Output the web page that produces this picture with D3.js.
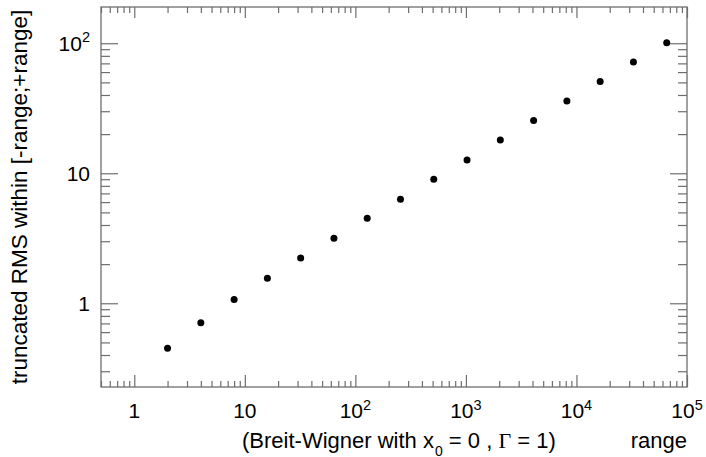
<!DOCTYPE html>
<html><head><meta charset="utf-8">
<script src="https://cdn.jsdelivr.net/npm/d3@7"></script>
<style>
body{margin:0;background:#fff;}
svg{display:block;font-family:"Liberation Sans",Arial,Helvetica,sans-serif;}
</style></head><body>
<svg id="c" width="706" height="457"></svg>
<script>
const rangeValues = [2,4,8,16,32,64,128,256,512,1024,2048,4096,8192,16384,32768,65536];
const rmsValues = [0.451,0.709,1.07,1.557,2.23,3.16,4.51,6.31,9.0,12.66,18.0,25.4,36.0,50.7,71.8,101];
const xMajorTicks = [1,10,100,1000,10000,100000];
const xTickBase = ["1","10","10","10","10","10"];
const xTickExp = ["","","2","3","4","5"];
const yMajorTicks = [1,10,100];
const yTickBase = ["1","10","10"];
const yTickExp = ["","","2"];
const xDomain = [0.5, 100000];
const yDomain = [0.227, 190];

const svg = d3.select("#c");
const L=101, R=687, T=7, B=387;
const x = d3.scaleLog().domain(xDomain).range([L,R]);
const y = d3.scaleLog().domain(yDomain).range([B,T]);
const axisColor = "#6e6e6e";

const isMajor = v => Math.abs(Math.log10(v) - Math.round(Math.log10(v))) < 1e-9;
const xMinor = x.ticks().filter(v => !isMajor(v) && v>=xDomain[0] && v<=xDomain[1]);
const yMinor = y.ticks().filter(v => !isMajor(v) && v>=yDomain[0] && v<=yDomain[1]);

function styleAxis(g){
  g.select(".domain").remove();
  g.selectAll("line").attr("stroke",axisColor).attr("stroke-width",1.2);
  g.selectAll("text").remove();
}
// bottom
svg.append("g").attr("transform",`translate(0,${B})`).call(d3.axisTop(x).tickValues(xMajorTicks).tickSize(12).tickFormat("")).call(styleAxis);
svg.append("g").attr("transform",`translate(0,${B})`).call(d3.axisTop(x).tickValues(xMinor).tickSize(6).tickFormat("")).call(styleAxis);
// top
svg.append("g").attr("transform",`translate(0,${T})`).call(d3.axisBottom(x).tickValues(xMajorTicks).tickSize(11).tickFormat("")).call(styleAxis);
svg.append("g").attr("transform",`translate(0,${T})`).call(d3.axisBottom(x).tickValues(xMinor).tickSize(6).tickFormat("")).call(styleAxis);
// left
svg.append("g").attr("transform",`translate(${L},0)`).call(d3.axisRight(y).tickValues(yMajorTicks).tickSize(17).tickFormat("")).call(styleAxis);
svg.append("g").attr("transform",`translate(${L},0)`).call(d3.axisRight(y).tickValues(yMinor).tickSize(9).tickFormat("")).call(styleAxis);
// right
svg.append("g").attr("transform",`translate(${R},0)`).call(d3.axisLeft(y).tickValues(yMajorTicks).tickSize(17).tickFormat("")).call(styleAxis);
svg.append("g").attr("transform",`translate(${R},0)`).call(d3.axisLeft(y).tickValues(yMinor).tickSize(9).tickFormat("")).call(styleAxis);

svg.append("rect").attr("x",L).attr("y",T).attr("width",R-L).attr("height",B-T)
  .attr("fill","none").attr("stroke",axisColor).attr("stroke-width",1.3);

// x tick labels
xMajorTicks.forEach((v,i)=>{
  const t = svg.append("text").attr("x",x(v)).attr("y",418).attr("text-anchor","middle")
    .attr("font-size",21).attr("fill","#000");
  t.append("tspan").text(xTickBase[i]);
  if (xTickExp[i]) t.append("tspan").attr("font-size",14.5).attr("dy",-8.5).text(xTickExp[i]);
});
// y tick labels
yMajorTicks.forEach((v,i)=>{
  const t = svg.append("text").attr("x",90).attr("y",y(v)+7.5).attr("text-anchor","end")
    .attr("font-size",21).attr("fill","#000");
  t.append("tspan").text(yTickBase[i]);
  if (yTickExp[i]) t.append("tspan").attr("font-size",14.5).attr("dy",-8.5).text(yTickExp[i]);
});

// points
svg.append("g").selectAll("circle").data(rangeValues).join("circle")
  .attr("cx",(d)=>x(d)).attr("cy",(d,i)=>y(rmsValues[i])).attr("r",3.5).attr("fill","#000");

// x title
const xt = svg.append("text").attr("x",242).attr("y",448).attr("font-size",22).attr("fill","#000");
xt.append("tspan").text("(Breit-Wigner with x");
xt.append("tspan").attr("font-size",14).attr("dy",7.5).attr("dx",1).text("0");
xt.append("tspan").attr("dy",-7.5).attr("dx",0).text(" = 0 , ");
xt.append("tspan").attr("font-family","'Liberation Serif','Times New Roman',serif").text("Γ");
xt.append("tspan").text(" = 1)");
svg.append("text").attr("x",R).attr("y",448).attr("text-anchor","end").attr("font-size",22).attr("fill","#000").text("range");

// y title
svg.append("text").attr("transform",`translate(27,${(T+B)/2}) rotate(-90)`).attr("text-anchor","middle")
  .attr("font-size",22.5).attr("fill","#000").text("truncated RMS within [-range;+range]");
</script>
</body></html>
